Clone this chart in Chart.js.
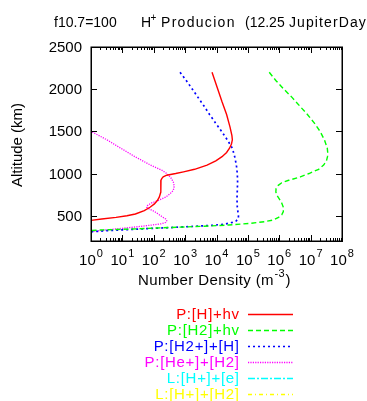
<!DOCTYPE html>
<html><head><meta charset="utf-8">
<script src="https://cdn.jsdelivr.net/npm/chart.js@4"></script>
<style>html,body{margin:0;padding:0;background:#fff;overflow:hidden}</style>
</head><body>
<canvas id="c" width="367" height="401" style="width:367px;height:401px;display:block"></canvas>
<script>
// ---- data (altitude km, number density m^-3) ----
const altH   = [2200,2000,1850,1700,1550,1450,1400,1350,1300,1250,1200,1150,1100,1050,1020,1000,980,960,940,920,850,780,720,680,640,600,560,520,500,480,460,445,430];
const denH   = [7.2e3,1.1e4,1.5e4,2.1e4,2.7e4,3.1e4,3.2e4,3.0e4,2.6e4,2.1e4,1.5e4,9.5e3,5.0e3,2.0e3,8.9e2,5.0e2,2.6e2,2.0e2,1.8e2,1.7e2,1.7e2,1.66e2,1.5e2,1.3e2,1.05e2,76,50,26,14,6.3,2.2,1.0,0.32];

const altH2  = [2200,2100,2000,1900,1800,1700,1600,1500,1400,1300,1250,1200,1150,1100,1050,1000,960,920,890,860,820,780,740,700,650,600,550,510,480,450,430,410,390,375,360,345,330,320];
const denH2  = [4.8e5,7.9e5,1.4e6,2.6e6,4.5e6,7.9e6,1.3e7,2.0e7,2.75e7,3.4e7,3.5e7,3.45e7,3.2e7,2.6e7,1.8e7,8.9e6,4.7e6,2.0e6,1.2e6,9.3e5,7.9e5,7.8e5,8.5e5,1.0e6,1.2e6,1.35e6,1.35e6,1.2e6,9.5e5,6.6e5,3.5e5,1.26e5,2.5e4,4.0e3,3.2e2,32,2.0,0.5];

const altH2pH = [2200,2100,2000,1900,1800,1700,1600,1500,1400,1300,1200,1100,1000,900,800,700,600,500,470,440,420,400,385,370,355,340,325,310,300];
const denH2pH = [6.9e2,1.1e3,1.7e3,2.6e3,4.0e3,6.0e3,9.3e3,1.45e4,2.2e4,3.2e4,3.8e4,4.3e4,4.6e4,4.7e4,4.6e4,4.5e4,4.6e4,5.0e4,5.0e4,4.3e4,3.2e4,1.8e4,7.1e3,1.26e3,2.0e2,25,4.0,1.1,0.5];

const altHepH2 = [1520,1500,1400,1300,1200,1100,1040,1000,950,900,850,800,760,720,680,650,620,600,580,550,500,460,440,420,405,390,370,350,330,310,300];
const denHepH2 = [0.8,1.0,3.2,8.9,25,79,1.8e2,2.6e2,3.5e2,4.2e2,4.5e2,4.2e2,3.3e2,2.4e2,1.4e2,83,63,60,71,1.05e2,1.66e2,2.4e2,2.6e2,2.4e2,1.8e2,89,32,10,2.8,1.0,0.5];

const altLHe = [];  const denLHe = [];
const altLH2 = [];  const denLH2 = [];

const seriesLabels = ['P:[H]+hv','P:[H2]+hv','P:[H2+]+[H]','P:[He+]+[H2]','L:[H+]+[e]','L:[H+]+[H2]'];
const xTickExps = [0,1,2,3,4,5,6,7,8];
const yTickVals = [500,1000,1500,2000,2500];

// ---- styles ----
const colors = ['#ff0000','#00ff00','#0000ff','#ff00ff','#00ffff','#ffff00'];
const dashes = [[],[5,3],[2,3],[1.2,1.2],[7,2,2,2],[4,3,1,3]];
const widths = [1.4,1.4,1.7,1.3,1.3,1.3];
const alts = [altH,altH2,altH2pH,altHepH2,altLHe,altLH2];
const dens = [denH,denH2,denH2pH,denHepH2,denLHe,denLH2];
const FONT = '"Liberation Sans", Arial, Helvetica, sans-serif';

const datasets = seriesLabels.map((lab,k)=>({
  label: lab,
  data: alts[k].map((a,i)=>({x: dens[k][i], y: a})),
  borderColor: colors[k],
  borderWidth: widths[k],
  borderDash: dashes[k],
  pointRadius: 0,
  showLine: true,
  fill: false,
  tension: 0,
  clip: 0
}));

function ls(ctx, v){ if ('letterSpacing' in ctx) ctx.letterSpacing = v + 'px'; }

const decor = {
  id: 'decor',
  afterDraw(chart){
    const ctx = chart.ctx, ca = chart.chartArea;
    const xs = chart.scales.x, ys = chart.scales.y;
    ctx.save();
    ctx.strokeStyle = '#000'; ctx.fillStyle = '#000';
    ctx.lineWidth = 1;
    // x ticks (bottom & top, inward)
    ctx.beginPath();
    xTickExps.forEach(e=>{
      const px = Math.round(xs.getPixelForValue(Math.pow(10,e)))+0.5;
      ctx.moveTo(px, ca.bottom); ctx.lineTo(px, ca.bottom-6);
      ctx.moveTo(px, ca.top); ctx.lineTo(px, ca.top+6);
      if (e < 8) {
        for (let m=2;m<=9;m++){
          const q = Math.round(xs.getPixelForValue(m*Math.pow(10,e)))+0.5;
          ctx.moveTo(q, ca.bottom); ctx.lineTo(q, ca.bottom-3);
          ctx.moveTo(q, ca.top); ctx.lineTo(q, ca.top+3);
        }
      }
    });
    yTickVals.forEach(v=>{
      const py = Math.round(ys.getPixelForValue(v))+0.5;
      ctx.moveTo(ca.left, py); ctx.lineTo(ca.left+6, py);
      ctx.moveTo(ca.right, py); ctx.lineTo(ca.right-6, py);
    });
    ctx.stroke();
    // frame
    ctx.lineWidth = 1.5;
    ctx.strokeRect(Math.round(ca.left)+0.25, Math.round(ca.top)+0.25, Math.round(ca.right-ca.left), Math.round(ca.bottom-ca.top));

    // y tick labels
    ctx.font = '15px ' + FONT;
    ctx.textAlign = 'right'; ctx.textBaseline = 'middle';
    yTickVals.forEach(v=>{
      const py = ys.getPixelForValue(v);
      ctx.fillText(String(v), ca.left-9, py+1);
    });
    // x tick labels 10^e
    ctx.textBaseline = 'alphabetic'; ctx.textAlign = 'left';
    xTickExps.forEach(e=>{
      const px = xs.getPixelForValue(Math.pow(10,e));
      ctx.font = '15px ' + FONT;
      const w1 = ctx.measureText('10').width;
      ctx.font = '11px ' + FONT;
      const w2 = ctx.measureText(String(e)).width;
      const x0 = px - (w1+w2+1)/2;
      ctx.font = '15px ' + FONT;
      ctx.fillText('10', x0, ca.bottom+24);
      ctx.font = '11px ' + FONT;
      ctx.fillText(String(e), x0+w1+1, ca.bottom+16);
    });
    // x axis title
    ls(ctx, 0.4);
    ctx.font = '15px ' + FONT;
    const t1 = 'Number Density (m', t3 = ')';
    const w1 = ctx.measureText(t1).width;
    ctx.font = '11px ' + FONT;
    const w2 = ctx.measureText('-3').width;
    let xx = 138;
    ctx.font = '15px ' + FONT; ctx.fillText(t1, xx, 285);
    ctx.font = '11px ' + FONT; ctx.fillText('-3', xx+w1+0.5, 277);
    ctx.font = '15px ' + FONT; ctx.fillText(t3, xx+w1+w2+1, 285);
    ls(ctx, 0);
    // y axis title
    ctx.save();
    ctx.translate(22, (ca.top+ca.bottom)/2 + 1);
    ctx.rotate(-Math.PI/2);
    ctx.textAlign = 'center'; ctx.textBaseline = 'alphabetic';
    ctx.font = '15px ' + FONT;
    ctx.fillText('Altitude (km)', 0, 0);
    ctx.restore();
    // title
    ctx.textAlign = 'left';
    ctx.font = '14px ' + FONT;
    ctx.fillText('f10.7=100', 54, 27);
    ctx.fillText('H', 141, 27);
    ctx.font = '10px ' + FONT;
    ctx.fillText('+', 150.5, 21);
    ctx.font = '14px ' + FONT;
    ls(ctx, 1.3);
    ctx.fillText('Producion', 161, 27);
    ls(ctx, 0);
    ctx.fillText('(12.25', 245, 27);
    ls(ctx, 1.1);
    ctx.fillText('JupiterDay', 289, 27);
    ls(ctx, 0);
    // legend
    ctx.font = '15px ' + FONT;
    ctx.textAlign = 'right'; ctx.textBaseline = 'middle';
    ls(ctx, 0.7);
    seriesLabels.forEach((lab,k)=>{
      const y = 313.5 + k*16;
      ctx.fillStyle = colors[k];
      ctx.fillText(lab, 239.7, y+1);
      ctx.strokeStyle = colors[k];
      ctx.lineWidth = widths[k];
      ctx.setLineDash(dashes[k]);
      ctx.beginPath();
      ctx.moveTo(248, Math.round(y)+0.5); ctx.lineTo(293, Math.round(y)+0.5);
      ctx.stroke();
    });
    ls(ctx, 0);
    ctx.setLineDash([]);
    ctx.restore();
  }
};

new Chart(document.getElementById('c'), {
  type: 'scatter',
  data: { datasets },
  options: {
    responsive: false,
    animation: false,
    devicePixelRatio: 1,
    layout: { padding: { left: 91, right: 25, top: 47, bottom: 160 } },
    scales: {
      x: { type: 'logarithmic', min: 1, max: 1e8, display: false },
      y: { type: 'linear', min: 200, max: 2500, display: false }
    },
    plugins: { legend: { display: false }, title: { display: false }, tooltip: { enabled: false } }
  },
  plugins: [decor]
});
</script>
</body></html>
